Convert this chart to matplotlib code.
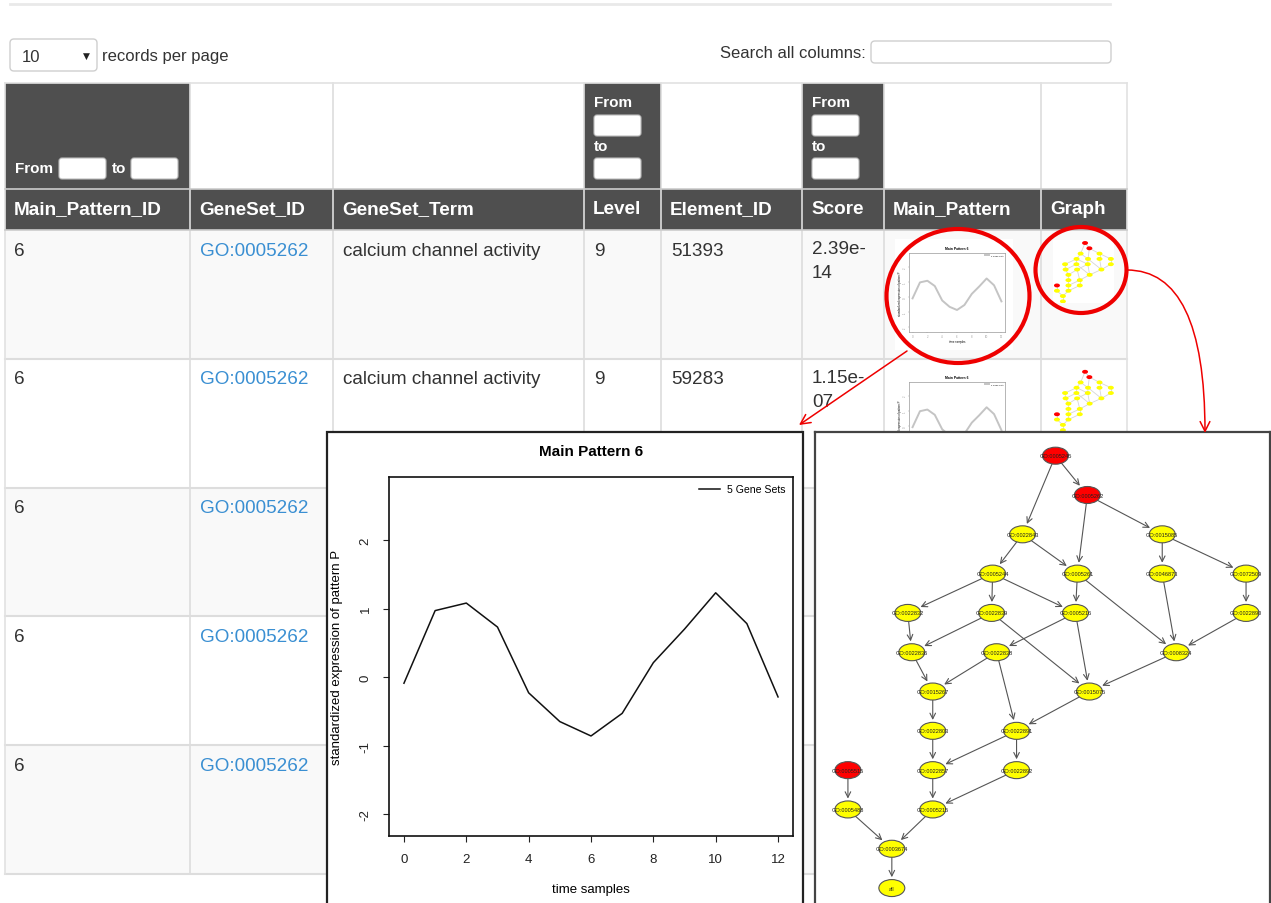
import matplotlib
matplotlib.use("Agg")
import matplotlib.pyplot as plt
from matplotlib.patches import Rectangle, Ellipse, FancyBboxPatch, FancyArrowPatch

plt.rcParams['font.family'] = ['Liberation Sans', 'DejaVu Sans']

# ---------------- table content ----------------
columns = ["Main_Pattern_ID", "GeneSet_ID", "GeneSet_Term", "Level",
           "Element_ID", "Score", "Main_Pattern", "Graph"]
pattern_ids = ["6", "6", "6", "6", "6"]
geneset_ids = ["GO:0005262", "GO:0005262", "GO:0005262", "GO:0005262", "GO:0005262"]
geneset_terms = ["calcium channel activity", "calcium channel activity"]
levels = ["9", "9"]
element_ids = ["51393", "59283"]
scores = ["2.39e-14", "1.15e-07"]
range_filter_cols = [0, 3, 5]
page_size = "10"

# ---------------- main pattern 6 ----------------
time_samples = list(range(13))
pattern_values = [-0.09, 0.97, 1.08, 0.73, -0.23, -0.65, -0.86,
                  -0.53, 0.21, 0.70, 1.23, 0.78, -0.29]
n_gene_sets = 5

# ---------------- GO graph (layout: horizontal position, level) ----------------
go_ids = ["GO:0005245", "GO:0005262", "GO:0022843", "GO:0015085",
          "GO:0005244", "GO:0005261", "GO:0046873", "GO:0072509",
          "GO:0022832", "GO:0022839", "GO:0005216", "GO:0022890",
          "GO:0022836", "GO:0022838", "GO:0008324",
          "GO:0015267", "GO:0015075",
          "GO:0022803", "GO:0022891",
          "GO:0005515", "GO:0022857", "GO:0022892",
          "GO:0005488", "GO:0005215",
          "GO:0003674", "all"]
go_xpos = [241, 273, 208, 348,
           178, 263, 348, 432,
           93, 177, 261, 432,
           97, 182, 362,
           118, 275,
           118, 202,
           33, 118, 202,
           33, 118,
           77, 77]
go_level = [0, 1, 2, 2,
            3, 3, 3, 3,
            4, 4, 4, 4,
            5, 5, 5,
            6, 6,
            7, 7,
            8, 8, 8,
            9, 9,
            10, 11]
go_significant = ["GO:0005245", "GO:0005262", "GO:0005515"]
go_edges = [("GO:0005245", "GO:0005262"), ("GO:0005245", "GO:0022843"),
            ("GO:0005262", "GO:0005261"), ("GO:0005262", "GO:0015085"),
            ("GO:0022843", "GO:0005244"), ("GO:0022843", "GO:0005261"),
            ("GO:0015085", "GO:0046873"), ("GO:0015085", "GO:0072509"),
            ("GO:0005244", "GO:0022832"), ("GO:0005244", "GO:0022839"),
            ("GO:0005244", "GO:0005216"),
            ("GO:0005261", "GO:0005216"), ("GO:0005261", "GO:0008324"),
            ("GO:0046873", "GO:0008324"), ("GO:0072509", "GO:0022890"),
            ("GO:0022890", "GO:0008324"),
            ("GO:0022832", "GO:0022836"),
            ("GO:0022839", "GO:0022836"), ("GO:0022839", "GO:0015075"),
            ("GO:0005216", "GO:0022838"), ("GO:0005216", "GO:0015075"),
            ("GO:0022836", "GO:0015267"),
            ("GO:0022838", "GO:0015267"), ("GO:0022838", "GO:0022891"),
            ("GO:0008324", "GO:0015075"),
            ("GO:0015267", "GO:0022803"), ("GO:0015075", "GO:0022891"),
            ("GO:0022803", "GO:0022857"),
            ("GO:0022891", "GO:0022857"), ("GO:0022891", "GO:0022892"),
            ("GO:0022857", "GO:0005215"), ("GO:0022892", "GO:0005215"),
            ("GO:0005515", "GO:0005488"),
            ("GO:0005488", "GO:0003674"), ("GO:0005215", "GO:0003674"),
            ("GO:0003674", "all")]

W, H = 1271, 904
fig = plt.figure(figsize=(W / 100, H / 100), dpi=100)
fig.patch.set_facecolor("white")


def fig_rect(x0, y0, w, h):
    """Pixel box (top-left origin) to figure fraction."""
    return [x0 / W, 1 - (y0 + h) / H, w / W, h / H]


page = fig.add_axes([0, 0, 1, 1], zorder=0)
page.set_xlim(0, W)
page.set_ylim(H, 0)
page.axis("off")

TXT = "#333333"
HEAD = "#4f4f4f"
GRID = "#dddddd"
LINK = "#3a8fd2"
BODY_FS = 13.6

# page chrome
page.plot([10, 1110], [5, 5], color="#e9e9e9", lw=2)
page.add_patch(FancyBboxPatch((10, 40), 87, 32, boxstyle="round,pad=0,rounding_size=4",
                              fc="white", ec="#cfcfcf", lw=1))
page.text(22, 57, page_size, fontsize=12, color=TXT, va="center")
page.text(86, 56, "\u25BC", fontsize=6.5, color="#222222", va="center", ha="center",
          family="DejaVu Sans")
page.text(102, 56, "records per page", fontsize=12, color=TXT, va="center")
page.text(866, 53, "Search all columns:", fontsize=12, color=TXT, va="center", ha="right")
page.add_patch(FancyBboxPatch((871, 42), 240, 22, boxstyle="round,pad=0,rounding_size=4",
                              fc="white", ec="#cfcfcf", lw=1))

# table geometry
col_edges = [5, 190, 333, 584, 661, 802, 884, 1041, 1127]
head1_top, head2_top, body_top = 84, 190, 231
row_h = 128.8
n_rows = len(pattern_ids)
table_bottom = body_top + n_rows * row_h

# header rows
for c in range(len(columns)):
    x0, x1 = col_edges[c], col_edges[c + 1]
    fill = HEAD if c in range_filter_cols else "white"
    page.add_patch(Rectangle((x0, head1_top), x1 - x0, head2_top - head1_top,
                             fc=fill, ec="none"))
    page.add_patch(Rectangle((x0, head2_top), x1 - x0, body_top - head2_top,
                             fc=HEAD, ec="none"))
    page.text(x0 + 9, 210, columns[c], fontsize=BODY_FS, fontweight="bold",
              color="white", va="center")


def input_box(x, y, w=47, h=21):
    page.add_patch(FancyBboxPatch((x, y), w, h, boxstyle="round,pad=0,rounding_size=3",
                                  fc="white", ec="#bbbbbb", lw=0.8, zorder=3))


for c in range_filter_cols:
    x0 = col_edges[c]
    if c == 0:
        page.text(x0 + 10, 169, "From", fontsize=11, fontweight="bold", color="white", va="center")
        input_box(x0 + 54, 159)
        page.text(x0 + 107, 169, "to", fontsize=11, fontweight="bold", color="white", va="center")
        input_box(x0 + 126, 159)
    else:
        page.text(x0 + 10, 103, "From", fontsize=11, fontweight="bold", color="white", va="center")
        input_box(x0 + 10, 116)
        page.text(x0 + 10, 147, "to", fontsize=11, fontweight="bold", color="white", va="center")
        input_box(x0 + 10, 159)

# body rows
for r in range(n_rows):
    y0 = body_top + r * row_h
    page.add_patch(Rectangle((col_edges[0], y0), col_edges[-1] - col_edges[0], row_h,
                             fc="#f9f9f9" if r % 2 == 0 else "white", ec="none"))
    page.plot([col_edges[0], col_edges[-1]], [y0 + row_h, y0 + row_h], color=GRID, lw=1.5)
    ty = y0 + 20
    page.text(col_edges[0] + 9, ty, pattern_ids[r], fontsize=BODY_FS, color=TXT, va="center")
    page.text(col_edges[1] + 10, ty, geneset_ids[r], fontsize=BODY_FS, color=LINK, va="center")
    if r < len(geneset_terms):
        page.text(col_edges[2] + 10, ty, geneset_terms[r], fontsize=BODY_FS, color=TXT, va="center")
        page.text(col_edges[3] + 10, ty, levels[r], fontsize=BODY_FS, color=TXT, va="center")
        page.text(col_edges[4] + 10, ty, element_ids[r], fontsize=BODY_FS, color=TXT, va="center")
        page.text(col_edges[5] + 10, ty - 10, scores[r].replace("e-", "e-\n"), fontsize=BODY_FS,
                  color=TXT, va="top", linespacing=1.55)

# grid lines
for i, x in enumerate(col_edges):
    page.plot([x, x], [head1_top, table_bottom],
              color=GRID if 0 < i < len(col_edges) - 1 else "#e2e2e2", lw=1.2, zorder=2)
page.plot([col_edges[0], col_edges[-1]], [head1_top, head1_top], color="#e2e2e2", lw=1.2, zorder=2)
page.plot([col_edges[0], col_edges[-1]], [head2_top, head2_top], color="#cccccc", lw=1.2, zorder=2)
page.plot([col_edges[0], col_edges[-1]], [body_top, body_top], color="#cccccc", lw=1.2, zorder=2)


# ---------------- pattern plot helper ----------------
def draw_pattern(ax, line_color, lw, fs, title_fs, legend_fs, full=True):
    ax.plot(time_samples, pattern_values, color=line_color, lw=lw,
            label=f"{n_gene_sets} Gene Sets")
    ax.set_xlim(-0.48, 12.48)
    ax.set_ylim(-2.32, 2.92)
    ax.set_xticks(range(0, 13, 2))
    ax.set_yticks([-2, -1, 0, 1, 2])
    ax.set_yticklabels(["-2", "-1", "0", "1", "2"], rotation=90, va="center")
    ax.set_title("Main Pattern 6", fontsize=title_fs, fontweight="bold",
                 pad=16 if full else 3)
    ax.set_xlabel("time samples", fontsize=fs, labelpad=13 if full else 1)
    ax.set_ylabel("standardized expression of pattern P", fontsize=fs,
                  labelpad=12 if full else 1)
    ax.tick_params(labelsize=fs, length=4.5 if full else 1, width=0.8 if full else 0.3,
                   pad=8 if full else 0.5, colors="#222222" if full else "#999999")
    for s in ax.spines.values():
        s.set_linewidth(1.2 if full else 0.5)
        s.set_color("#111111" if full else "#999999")
    leg = ax.legend(loc="upper right", frameon=False, fontsize=legend_fs,
                    handlelength=2.0, borderaxespad=0.3, handletextpad=0.7)
    return leg


# ---------------- GO graph helper ----------------
def draw_go_graph(ax, thumb=False):
    ax.set_xlim(0, 456)
    ax.set_ylim(11.38, -0.603)
    ax.set_xticks([])
    ax.set_yticks([])
    pos = {g: (x, l) for g, x, l in zip(go_ids, go_xpos, go_level)}
    ell = {}
    grow = 1.7 if thumb else 1.0
    for g in go_ids:
        x, l = pos[g]
        fc = "#ff0000" if g in go_significant else "#ffff00"
        e = Ellipse((x, l), 26 * grow, 17 / 39.3 * grow, fc=fc,
                    ec="#555555" if not thumb else "none", lw=0.8, zorder=3)
        ax.add_patch(e)
        ell[g] = e
        if not thumb:
            ax.text(x, l, g, fontsize=4.1, ha="center", va="center", color="#222222", zorder=4)
    for a, b in go_edges:
        if thumb:
            ax.plot([pos[a][0], pos[b][0]], [pos[a][1], pos[b][1]], color="#d6d6d6",
                    lw=0.6, zorder=1)
        else:
            arr = FancyArrowPatch(pos[a], pos[b], patchA=ell[a], patchB=ell[b],
                                  arrowstyle="->,head_length=4,head_width=2",
                                  shrinkA=0, shrinkB=2, color="#555555", lw=0.8, zorder=2)
            ax.add_patch(arr)


# ---------------- thumbnails in table cells ----------------
for r in range(2):
    y0 = body_top + r * row_h
    page.add_patch(Rectangle((895, y0 + 9), 118, 111, fc="white", ec="none", zorder=1))
    tax = fig.add_axes(fig_rect(909, y0 + 23, 96, 79), zorder=1)
    draw_pattern(tax, "#c4c4c4", 1.4, 2.0, 2.4, 1.6, full=False)
    gax = fig.add_axes(fig_rect(1052.5, y0 + 9.8, 61.6, 63.6), zorder=1)
    gax.set_facecolor("white")
    for s in gax.spines.values():
        s.set_visible(False)
    draw_go_graph(gax, thumb=True)

# ---------------- enlarged pattern panel ----------------
page.add_patch(Rectangle((327, 433), 476, 490, fc="white", ec="#222222", lw=1.6, zorder=10))
pax = fig.add_axes(fig_rect(389, 478, 404, 359), zorder=2)
draw_pattern(pax, "#111111", 1.1, 9.5, 11, 7.6, full=True)

# ---------------- enlarged GO graph panel ----------------
grx = fig.add_axes(fig_rect(815, 433, 455, 490), zorder=2)
grx.set_facecolor("white")
for s in grx.spines.values():
    s.set_color("#444444")
    s.set_linewidth(1.6)
draw_go_graph(grx)
grx.set_ylim(11.38 + 19 / 39.3, -0.603)

# ---------------- call-out annotations ----------------
ann = fig.add_axes([0, 0, 1, 1], zorder=5)
ann.set_xlim(0, W)
ann.set_ylim(H, 0)
ann.axis("off")
ann.patch.set_alpha(0)
ann.add_patch(Ellipse((958, 297), 143, 134, fc="none", ec="#ee0000", lw=3.0))
ann.add_patch(Ellipse((1081, 271), 91, 86, fc="none", ec="#ee0000", lw=3.0))
ann.add_patch(FancyArrowPatch((907, 352), (799, 426),
                              arrowstyle="->,head_length=7,head_width=3.5",
                              color="#ee0000", lw=1.1, shrinkA=0, shrinkB=0))
ann.add_patch(FancyArrowPatch((1127, 271), (1205, 434),
                              connectionstyle="angle3,angleA=0,angleB=90",
                              arrowstyle="->,head_length=7,head_width=3.5",
                              color="#ee0000", lw=1.1, shrinkA=0, shrinkB=0))

fig.savefig("out.png", dpi=100, facecolor="white")
